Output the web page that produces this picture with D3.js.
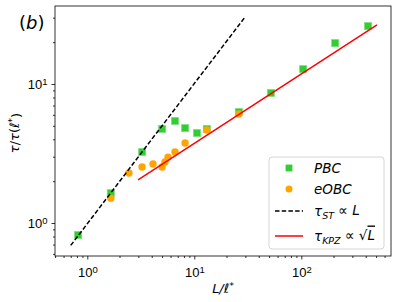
<!DOCTYPE html>
<meta charset="utf-8">
<script src="https://d3js.org/d3.v7.min.js"></script>
<style>
  body { margin: 0; background: #fff; }
  svg { font-family: "DejaVu Sans", sans-serif; display: block; }
</style>
<body>
<div id="chart"></div>
<script>

// PBC data (squares)
var pbcL   = [0.82, 1.66, 3.25, 5.0, 6.6, 8.2, 10.6, 13.1, 26.1, 52, 104, 207, 420];
var pbcTau = [0.82, 1.64, 3.24, 4.75, 5.42, 4.82, 4.44, 4.75, 6.29, 8.62, 12.8, 19.7, 26.1];

// eOBC data (circles)
var obcL   = [1.66, 2.45, 3.25, 4.11, 5.0, 5.32, 5.68, 6.6, 8.2, 13.1, 26.1];
var obcTau = [1.51, 2.29, 2.53, 2.66, 2.53, 2.75, 2.98, 3.24, 3.76, 4.67, 6.08];

// guide lines (end points)
var stL    = [0.70, 29.8];
var stTau  = [0.69, 30.3];
var kpzL   = [2.98, 510];
var kpzTau = [2.04, 26.6];

var W = 398, H = 302;
var margin = {top: 6, right: 7, bottom: 46, left: 55};
var width = W - margin.left - margin.right,
    height = H - margin.top - margin.bottom;

var svg = d3.select("#chart").append("svg")
    .attr("width", W).attr("height", H);

var g = svg.append("g")
    .attr("transform", "translate(" + margin.left + "," + margin.top + ")");

var x = d3.scaleLog().domain([0.499, 689]).range([0, width]);
var y = d3.scaleLog().domain([0.579, 36.4]).range([height, 0]);

// minor ticks
var xMinor = [], yMinor = [];
[0.1, 1, 10, 100].forEach(function(d) {
  for (var i = 2; i <= 9; i++) {
    var v = d * i;
    if (v > x.domain()[0] && v < x.domain()[1]) xMinor.push(v);
    if (v > y.domain()[0] && v < y.domain()[1]) yMinor.push(v);
  }
});

function sup(sel) {
  sel.selectAll(".tick text").each(function(d) {
    var t = d3.select(this);
    var e = Math.round(Math.log10(d));
    t.text("10");
    t.append("tspan").attr("dy", "-0.45em").style("font-size", "9.5px").text(e);
  });
}

g.append("g").attr("transform", "translate(0," + height + ")")
  .call(d3.axisBottom(x).tickValues(xMinor).tickSize(2).tickFormat(""))
  .call(function(a) { a.select(".domain").remove(); });
g.append("g")
  .call(d3.axisLeft(y).tickValues(yMinor).tickSize(2).tickFormat(""))
  .call(function(a) { a.select(".domain").remove(); });

var xAxis = g.append("g").attr("transform", "translate(0," + height + ")")
  .call(d3.axisBottom(x).tickValues([1, 10, 100]).tickSize(3.5).tickPadding(4))
  .call(sup);
var yAxis = g.append("g")
  .call(d3.axisLeft(y).tickValues([1, 10]).tickSize(3.5).tickPadding(4))
  .call(sup);

[xAxis, yAxis].forEach(function(a) {
  a.select(".domain").remove();
  a.selectAll(".tick text").style("font-size", "13px").attr("fill", "#000");
});
g.selectAll(".tick line").attr("stroke", "#000").attr("stroke-width", 0.8);
xAxis.selectAll(".tick text").attr("dy", "1.05em");
yAxis.selectAll(".tick text").attr("dy", "0.35em");

// markers
g.selectAll(".pbc")
  .data(pbcL.map(function(d, i) { return [d, pbcTau[i]]; }))
  .enter().append("rect")
    .attr("x", function(d) { return x(d[0]) - 3.7; })
    .attr("y", function(d) { return y(d[1]) - 3.7; })
    .attr("width", 7.4).attr("height", 7.4)
    .attr("fill", "#32cd32")
    .attr("stroke", "#8fe38f").attr("stroke-width", 0.6);

g.selectAll(".obc")
  .data(obcL.map(function(d, i) { return [d, obcTau[i]]; }))
  .enter().append("circle")
    .attr("cx", function(d) { return x(d[0]); })
    .attr("cy", function(d) { return y(d[1]); })
    .attr("r", 3.7)
    .attr("fill", "#ffa500");

var line = d3.line().x(function(d) { return x(d[0]); }).y(function(d) { return y(d[1]); });

g.append("path")
  .attr("d", line(stL.map(function(d, i) { return [d, stTau[i]]; })))
  .attr("fill", "none").attr("stroke", "#000").attr("stroke-width", 1.5)
  .attr("stroke-dasharray", "4.5,2.2");

g.append("path")
  .attr("d", line(kpzL.map(function(d, i) { return [d, kpzTau[i]]; })))
  .attr("fill", "none").attr("stroke", "#ff0000").attr("stroke-width", 1.5);

// frame
g.append("rect").attr("width", width).attr("height", height)
  .attr("fill", "none").attr("stroke", "#000").attr("stroke-width", 0.8);

// panel label
svg.append("text").attr("x", 19).attr("y", 29)
  .style("font-size", "18px")
  .html('(<tspan font-style="italic">b</tspan>)');

// axis labels
svg.append("text")
  .attr("x", margin.left + width / 2).attr("y", 293)
  .attr("text-anchor", "middle").style("font-size", "13px").style("font-style", "italic")
  .html('L/ℓ<tspan dy="-0.45em" font-size="9.5px" font-style="normal">*</tspan>');

svg.append("text")
  .attr("transform", "translate(19," + (margin.top + 127) + ")rotate(-90)")
  .attr("text-anchor", "middle").style("font-size", "13px")
  .html('<tspan font-style="italic">τ</tspan>/<tspan font-style="italic">τ</tspan>(<tspan font-style="italic">ℓ</tspan><tspan dy="-0.45em" font-size="9.5px">*</tspan><tspan dy="0.45em">)</tspan>');

// legend
var lg = svg.append("g").attr("transform", "translate(269,157)");
lg.append("rect").attr("width", 115).attr("height", 92).attr("rx", 3)
  .attr("fill", "#fff").attr("fill-opacity", 0.8)
  .attr("stroke", "#cccccc").attr("stroke-width", 0.8);

var rows = [11, 32, 54, 79];
lg.append("rect").attr("x", 20 - 3.4).attr("y", rows[0] - 3.4)
  .attr("width", 6.8).attr("height", 6.8).attr("fill", "#32cd32");
lg.append("circle").attr("cx", 20).attr("cy", rows[1]).attr("r", 3.5).attr("fill", "#ffa500");
lg.append("line").attr("x1", 6).attr("x2", 34).attr("y1", rows[2]).attr("y2", rows[2])
  .attr("stroke", "#000").attr("stroke-width", 1.5).attr("stroke-dasharray", "4.5,2.2");
lg.append("line").attr("x1", 6).attr("x2", 34).attr("y1", rows[3]).attr("y2", rows[3])
  .attr("stroke", "#ff0000").attr("stroke-width", 1.5);

function ltext(yy) {
  return lg.append("text").attr("x", 45).attr("y", yy).attr("dy", "0.35em")
    .style("font-size", "13.5px");
}
ltext(rows[0]).style("font-style", "italic").text("PBC");
ltext(rows[1]).style("font-style", "italic").text("eOBC");
ltext(rows[2]).html('<tspan font-style="italic">τ</tspan><tspan font-style="italic" font-size="9.5px" dy="0.3em">ST</tspan><tspan dy="-0.3em"> ∝ </tspan><tspan font-style="italic">L</tspan>');
ltext(rows[3]).html('<tspan font-style="italic">τ</tspan><tspan font-style="italic" font-size="9.5px" dy="0.3em">KPZ</tspan><tspan dy="-0.3em"> ∝ √</tspan><tspan font-style="italic" text-decoration="overline">L</tspan>');

</script>
</body>
